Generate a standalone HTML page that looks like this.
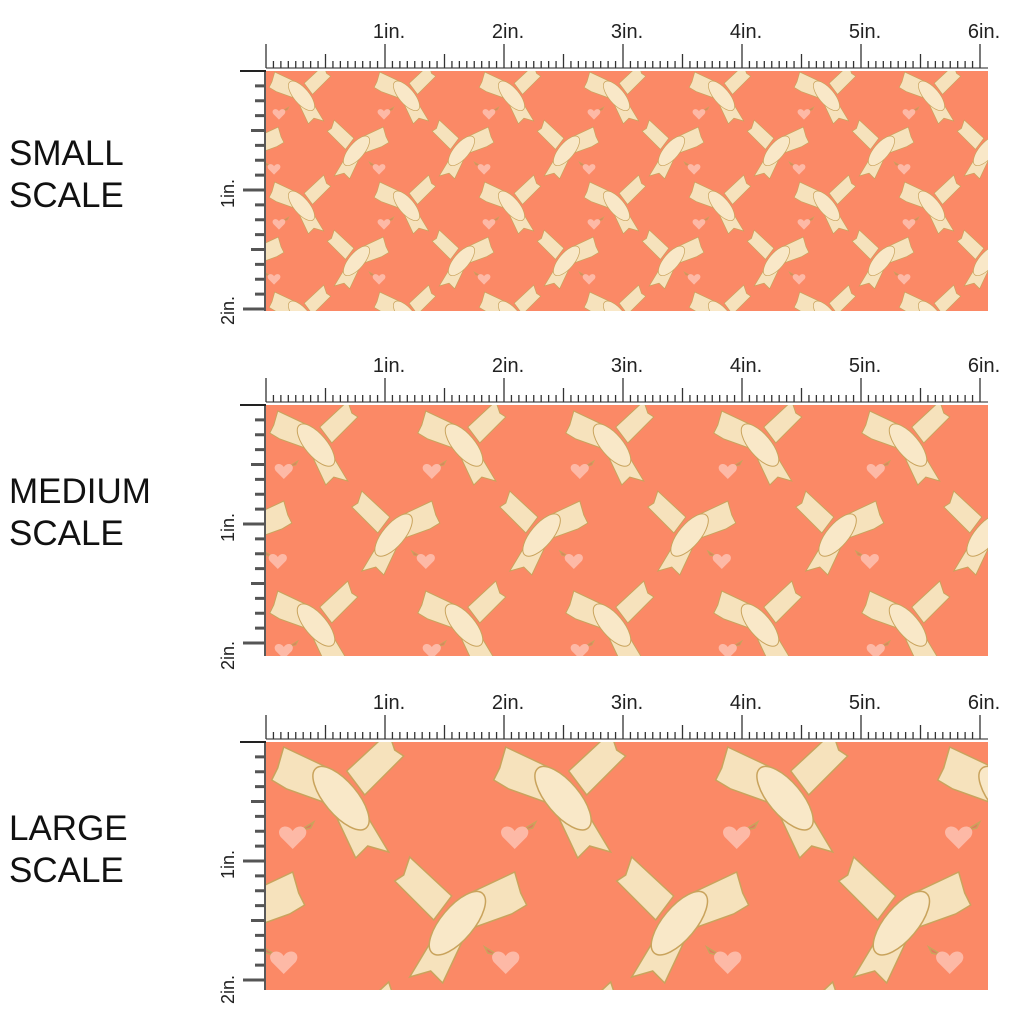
<!DOCTYPE html>
<html><head><meta charset="utf-8"><style>
body{margin:0;background:#fff;width:1024px;height:1024px;overflow:hidden;font-family:"Liberation Sans",sans-serif}
.lab{position:absolute;left:9px;font-size:35px;line-height:42px;color:#111}
</style></head><body>
<div class="lab" style="top:133px">SMALL<br>SCALE</div>
<div class="lab" style="top:471px">MEDIUM<br>SCALE</div>
<div class="lab" style="top:808px">LARGE<br>SCALE</div>
<svg id="s" width="1024" height="1024" style="position:absolute;left:0;top:0"></svg>
<script>
const s=document.getElementById('s');
let h='<defs><g id="b" stroke="#c9a35c" stroke-width="1"><path d="M-6,-14 L-40,-30 L-44,-16 L-48,-8 L-38,-2 L-10,8Z" fill="#f6e2bc"/><path d="M6,0 L30,40 L16,36 L8,44 L-8,10Z" fill="#f6e2bc"/><path d="M2,-14 L30,-40 L34,-28 L40,-24 L14,2Z" fill="#f6e2bc"/><ellipse cx="-4" cy="2" rx="11" ry="26" transform="rotate(-40)" fill="#f9e8c8"/><path d="M-20,20 L-30,26 L-22,24Z" fill="#e07a60"/><path d="M-34,26 c-4,-6 -12,-2 -8,4 l8,8 l8,-8 c4,-6 -4,-10 -8,-4z" fill="#fdb9a6" stroke="none"/></g></defs>';
const panels=[[71,311,105,110,0.7],[405,656,148,180,1.0],[742,990,222,250,1.5]];
panels.forEach(([t,b,tw,th,sc],i)=>{
 const id='p'+i;
 h+=`<defs><pattern id="${id}" patternUnits="userSpaceOnUse" x="266" y="${t}" width="${tw}" height="${th}"><rect width="${tw}" height="${th}" fill="#fb8966"/>`;
 for(const [dx,dy] of [[0,0],[-1,0],[1,0],[0,-1],[0,1],[-1,-1],[1,1],[-1,1],[1,-1]]){
  h+=`<use href="#b" transform="translate(${tw*0.35+dx*tw},${th*0.2+dy*th}) scale(${sc})"/>`;
  h+=`<use href="#b" transform="translate(${tw*0.85+dx*tw},${th*0.7+dy*th}) scale(${-sc},${sc})"/>`;
 }
 h+=`</pattern></defs>`;
 h+=`<rect x="266" y="${t}" width="722" height="${b-t}" fill="url(#${id})"/>`;
 const base=t-3;
 h+=`<line x1="266" y1="${base}" x2="988" y2="${base}" stroke="#222" stroke-width="1"/>`;
 for(let k=0;k<=96;k++){const x=266+k*119/16;if(x>990)break;const len=k%16==0?24:(k%8==0?14:7);h+=`<line x1="${x}" y1="${base}" x2="${x}" y2="${base-len}" stroke="#333" stroke-width="1.3"/>`;}
 for(let k=1;k<=6;k++)h+=`<text x="${266+k*119+4}" y="${t-33}" font-size="20" text-anchor="middle" fill="#222" font-family="Liberation Sans">${k}in.</text>`;
 h+=`<line x1="240" y1="${t}" x2="266" y2="${t}" stroke="#222" stroke-width="2"/><line x1="265" y1="${t}" x2="265" y2="${b}" stroke="#222" stroke-width="1.5"/>`;
 for(let k=1;k<=16;k++){const y=t+k*119/8;if(y>b)break;const len=k%8==0?22:(k%4==0?14:10);h+=`<line x1="${265-len}" y1="${y}" x2="265" y2="${y}" stroke="#555" stroke-width="3"/>`;}
 h+=`<text transform="translate(234,${t+119+18}) rotate(-90)" font-size="18" fill="#222" font-family="Liberation Sans">1in.</text>`;
 h+=`<text transform="translate(234,${b+14}) rotate(-90)" font-size="18" fill="#222" font-family="Liberation Sans">2in.</text>`;
});
s.innerHTML=h;
</script>
</body></html>
